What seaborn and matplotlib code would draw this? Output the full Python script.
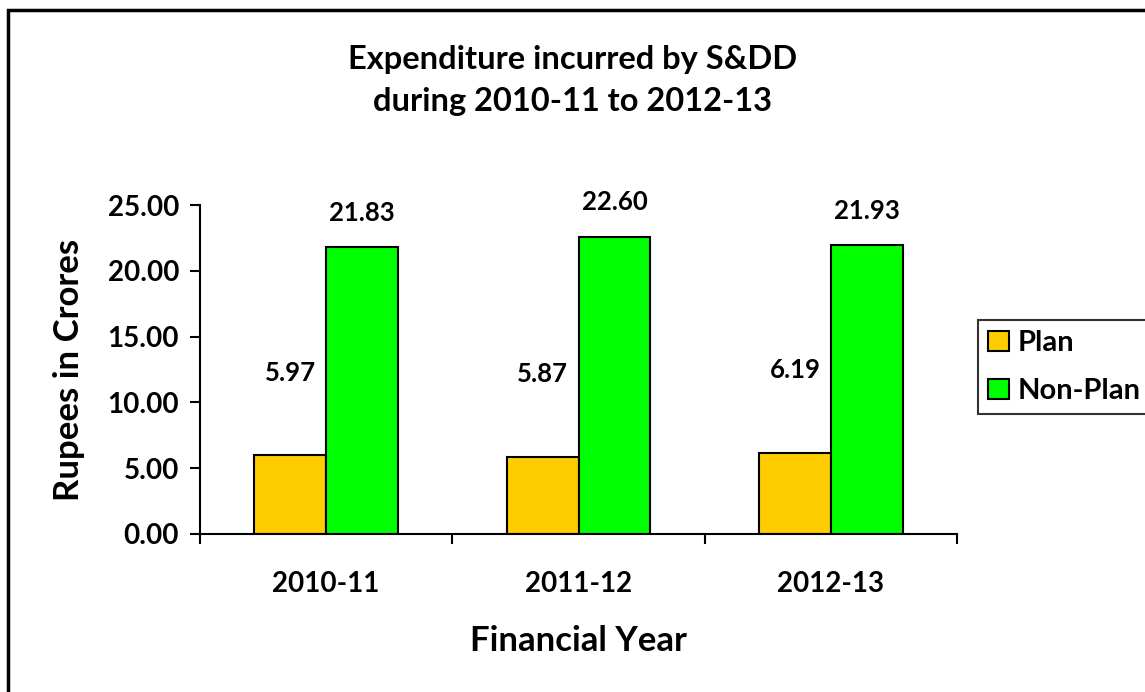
import matplotlib.pyplot as plt
import matplotlib.patches as mpatches
import pandas as pd
import seaborn as sns

years = ["2010-11", "2011-12", "2012-13"]
plan = [5.97, 5.87, 6.19]
non_plan = [21.83, 22.60, 21.93]
series = ["Plan", "Non-Plan"]
colors = ["#FFCC00", "#00FF00"]

df = pd.DataFrame({
    "year": years * 2,
    "value": plan + non_plan,
    "series": ["Plan"] * 3 + ["Non-Plan"] * 3,
})

sns.set_style("white")
plt.rcParams["font.family"] = ["Lato", "DejaVu Sans"]
plt.rcParams["font.weight"] = "bold"
for key in ["text.color", "axes.labelcolor", "xtick.color", "ytick.color"]:
    plt.rcParams[key] = "black"

fig = plt.figure(figsize=(11.45, 6.92), dpi=100)
ax = fig.add_axes([200 / 1145, 158 / 692, 757 / 1145, 329 / 692])

sns.barplot(data=df, x="year", y="value", hue="series", hue_order=series,
            palette=colors, width=0.57, edgecolor="black", linewidth=1.5,
            saturation=1, ax=ax, legend=True)

ax.set_ylim(0, 25)
ax.set_xlim(-0.5, 2.5)
ax.set_yticks([0, 5, 10, 15, 20, 25])
ax.set_yticklabels([f"{v:.2f}" for v in [0, 5, 10, 15, 20, 25]],
                   fontsize=20, fontweight="bold")
ax.set_xticks([-0.5, 0.5, 1.5, 2.5])
ax.set_xticklabels([])
ax.set_xticks([0, 1, 2], minor=True)
ax.set_xticklabels(years, minor=True, fontsize=20, fontweight="bold")
ax.tick_params(axis="x", which="minor", length=0, pad=27)
ax.tick_params(axis="x", which="major", length=7, width=1.5, direction="out", bottom=True)
ax.tick_params(axis="y", length=7, width=1.5, direction="out", left=True, pad=8)

for s in ["top", "right"]:
    ax.spines[s].set_visible(False)
for s in ["left", "bottom"]:
    ax.spines[s].set_linewidth(1.5)
    ax.spines[s].set_color("black")

ax.set_xlabel("Financial Year", fontsize=25, fontweight="bold", labelpad=20)
ax.set_ylabel("Rupees in Crores", fontsize=25, fontweight="bold", labelpad=16)

# value labels
for cont, vals, off in zip(ax.containers, [plan, non_plan], [6.3, 2.6]):
    for bar, v in zip(cont, vals):
        ax.text(bar.get_x() + bar.get_width() / 2, v + off, f"{v:.2f}",
                ha="center", va="center", fontsize=18.5, fontweight="bold",
                clip_on=False)

fig.text(0.5, 1 - 60 / 692, "Expenditure incurred by S&DD", ha="center", va="center",
         fontsize=23.5, fontweight="bold")
fig.text(0.5, 1 - 101 / 692, "during 2010-11 to 2012-13", ha="center", va="center",
         fontsize=23.5, fontweight="bold")

leg = ax.legend(loc="upper left", bbox_to_anchor=(978 / 1145, 1 - 320 / 692),
                bbox_transform=fig.transFigure, frameon=True, fancybox=False,
                prop={"size": 21, "weight": "bold"}, handlelength=0.7,
                handleheight=0.7, handletextpad=0.3, borderpad=0.35,
                labelspacing=0.75, borderaxespad=0)
leg.get_frame().set_edgecolor("black")
leg.get_frame().set_linewidth(1.5)
for h in leg.legend_handles:
    h.set_edgecolor("black")
    h.set_linewidth(1.5)

# outer chart border (extends past right/bottom edges)
fig.patches.append(mpatches.Rectangle((8 / 1145, -0.1), 1.5, 1 - 10 / 692 + 0.1,
                                      transform=fig.transFigure, fill=False,
                                      edgecolor="black", linewidth=2.5))

fig.savefig("out.png", dpi=100, facecolor="white")
